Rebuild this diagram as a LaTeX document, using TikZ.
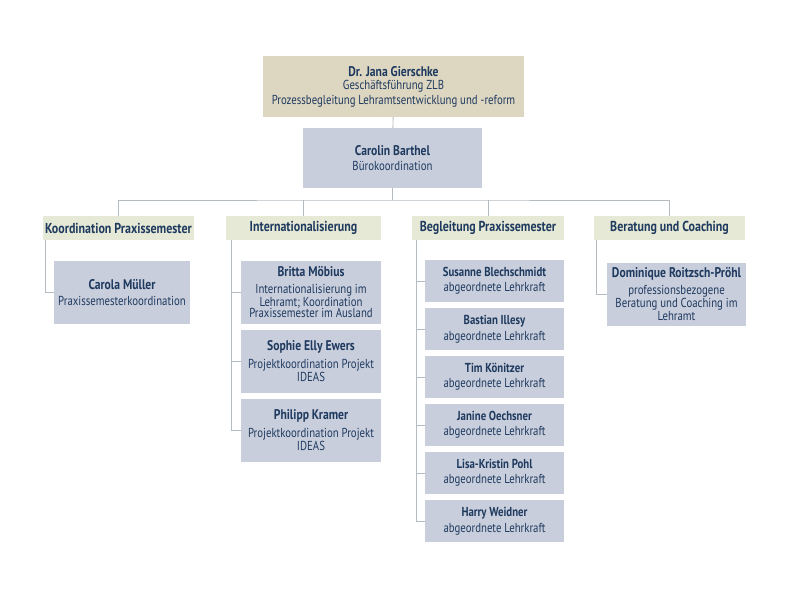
\documentclass[tikz,border=0pt]{standalone}
\usepackage{fontspec}
\setmainfont{PT Sans}[FakeStretch=0.83]
\usepackage{tikz}

\definecolor{gftan}{HTML}{DDD6C1}
\definecolor{boxblue}{HTML}{C9CEDC}
\definecolor{hdrgreen}{HTML}{E6E9D5}
\definecolor{navy}{HTML}{1E3A5F}
\definecolor{linegrey}{HTML}{B4BCC2}
\newcommand{\pname}[1]{{\fontsize{14}{15}\selectfont\bfseries #1}}

\begin{document}
\begin{tikzpicture}[x=1pt, y=-1pt,
    every node/.style={text=navy, font=\fontsize{13}{11.5}\selectfont, align=center, inner sep=0pt},
    person/.style={fill=boxblue, minimum width=140, minimum height=63},
    head/.style={fill=hdrgreen, minimum height=24, font=\fontsize{14.4}{15}\selectfont\bfseries},
    line/.style={draw=linegrey, line width=0.9pt}]
    \useasboundingbox (0,0) rectangle (800,595);
    % top levels
    \node [fill=gftan, minimum width=261, minimum height=61, font=\fontsize{13}{15}\selectfont] (gf) at (393.5, 86.5)
      {\pname{Dr. Jana Gierschke}\\[-2pt] Geschäftsführung ZLB\\ Prozessbegleitung Lehramtsentwicklung und -reform};
    \node [person, minimum width=179, minimum height=60] (buero) at (392.5, 158)
      {\pname{Carolin Barthel}\\[4pt] Bürokoordination};
    \coordinate (bar) at (392.5, 200);
    % departments
    \node [head, minimum width=151] (koord) at (118.5, 228) {Koordination Praxissemester};
    \node [head, minimum width=155] (intl) at (303.5, 228) {Internationalisierung};
    \node [head, minimum width=152] (begl) at (488, 228) {Begleitung Praxissemester};
    \node [head, minimum width=151] (berat) at (669.5, 228) {Beratung und Coaching};
    \draw [line] (gf) -- (buero);
    \draw [line] (buero) -- (bar);
    \draw [line] (koord.north) |- (bar) -| (berat.north);
    \draw [line] (intl.north) -- (intl.north |- bar);
    \draw [line] (begl.north) -- (begl.north |- bar);
    % Koordination Praxissemester
    \node [person, minimum width=136] (mueller) at (122, 292.5)
      {\pname{Carola Müller}\\[5pt] Praxissemesterkoordination};
    \draw [line] ([xshift=3]koord.south west) |- (mueller.west);
    % Internationalisierung
    \node [person] (moebius) at (311, 292.5)
      {\pname{Britta Möbius}\\[5pt] Internationalisierung im\\ Lehramt; Koordination\\ Praxissemester im Ausland};
    \node [person] (ewers) at (311, 361.5)
      {\pname{Sophie Elly Ewers}\\[5pt] Projektkoordination Projekt\\ IDEAS};
    \node [person] (kramer) at (311, 430.5)
      {\pname{Philipp Kramer}\\[5pt] Projektkoordination Projekt\\ IDEAS};
    \coordinate (intltrunk) at ([xshift=6]intl.south west);
    \draw [line] (intltrunk) |- (kramer.west);
    \draw [line] (moebius.west) -- (moebius.west -| intltrunk);
    \draw [line] (ewers.west) -- (ewers.west -| intltrunk);
    % Begleitung Praxissemester
    \coordinate (begltrunk) at ([xshift=5]begl.south west);
    \foreach \who [count=\i] in {Susanne Blechschmidt, Bastian Illesy, Tim Könitzer, Janine Oechsner, Lisa-Kristin Pohl, Harry Weidner} {
      \node [person, minimum width=139, minimum height=42] (b\i) at (494.5, {233+48*\i})
        {{\fontsize{13}{14}\selectfont\bfseries \who}\\[3.5pt] abgeordnete Lehrkraft};
    }
    \draw [line] (begltrunk) |- (b6.west);
    \foreach \i in {1,...,5}
      \draw [line] (b\i.west) -- (b\i.west -| begltrunk);
    % Beratung und Coaching
    \node [person, minimum width=139] (roitzsch) at (676.5, 294)
      {\pname{Dominique Roitzsch-Pröhl}\\[4pt] professionsbezogene\\ Beratung und Coaching im\\ Lehramt};
    \draw [line] ([xshift=3]berat.south west) |- (roitzsch.west);
  \end{tikzpicture}
\end{document}
